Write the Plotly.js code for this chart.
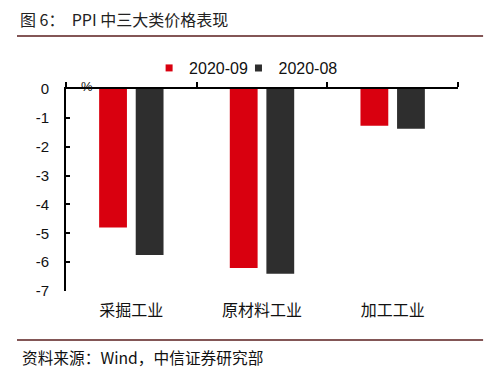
<!DOCTYPE html>
<html>
<head>
<meta charset="utf-8">
<script src="https://cdn.plot.ly/plotly-3.0.1.min.js"></script>
<style>html,body{margin:0;padding:0;background:#fff;}#chart{width:500px;height:380px;}</style>
</head>
<body>
<div id="chart"></div>
<script>
var categories = ["采掘工业", "原材料工业", "加工工业"];
var seriesNames = ["2020-09", "2020-08"];
var seriesColors = ["#D9000F", "#2E2E2E"];
var sep2020 = [-4.8, -6.2, -1.27];
var aug2020 = [-5.75, -6.4, -1.38];
var yTicks = [0, -1, -2, -3, -4, -5, -6, -7];

var FONT = "Liberation Sans, Arial, Noto Sans CJK SC, sans-serif";
var CJK = "Noto Sans CJK SC, Liberation Sans, sans-serif";

var data = [
  {type: "bar", name: seriesNames[0], x: categories, y: sep2020, marker: {color: seriesColors[0]}, xaxis: "x", yaxis: "y", showlegend: false},
  {type: "bar", name: seriesNames[1], x: categories, y: aug2020, marker: {color: seriesColors[1]}, xaxis: "x", yaxis: "y", showlegend: false},
  {type: "scatter", mode: "markers", name: seriesNames[0], x: [categories[0]], y: [null], marker: {symbol: "square", size: 7, color: seriesColors[0]}, xaxis: "x", yaxis: "y", legend: "legend"},
  {type: "scatter", mode: "markers", name: seriesNames[1], x: [categories[0]], y: [null], marker: {symbol: "square", size: 7, color: seriesColors[1]}, xaxis: "x", yaxis: "y", legend: "legend2"},
  {type: "scatter", mode: "markers", x: categories, y: [null, null, null], xaxis: "x2", yaxis: "y", showlegend: false, hoverinfo: "skip"}
];

var legendStyle = {font: {family: FONT, size: 16, color: "#111"}, itemwidth: 30, bgcolor: "rgba(0,0,0,0)",
  orientation: "h", xanchor: "left", yref: "container", y: 0.821, yanchor: "middle"};

var layout = {
  width: 500, height: 380,
  margin: {l: 66, r: 42, t: 89, b: 20},
  paper_bgcolor: "#fff", plot_bgcolor: "#fff",
  font: {family: FONT, size: 15, color: "#111"},
  barmode: "group", bargap: 0.44, bargroupgap: 0.24,
  showlegend: true,
  legend: Object.assign({x: 0.212}, legendStyle),
  legend2: Object.assign({x: 0.44}, legendStyle),
  title: {text: "图 6：  PPI 中三大类价格表现", x: 0.04, xref: "container", xanchor: "left",
    y: 0.947, yref: "container", yanchor: "middle", font: {family: CJK, size: 16, color: "#222"}},
  xaxis: {type: "category", categoryarray: categories, range: [-0.5, 2.5], side: "bottom", showline: false, ticks: "",
    showgrid: false, zeroline: false, ticklabelstandoff: 8, tickfont: {family: CJK, size: 16, color: "#111"}},
  xaxis2: {type: "category", categoryarray: categories, range: [-0.5, 2.5], overlaying: "x", side: "top", anchor: "y", showline: true,
    linecolor: "#000", linewidth: 2, ticks: "outside", ticklen: 5, tickwidth: 2, tickcolor: "#000",
    tickson: "boundaries", showticklabels: false, showgrid: false, zeroline: false},
  yaxis: {domain: [0.2546, 1], range: [-7, 0], tickvals: yTicks, ticktext: yTicks.map(String), showline: true, linecolor: "#000", linewidth: 2,
    ticks: "inside", ticklen: 4, tickwidth: 2, tickcolor: "#000", showgrid: false, zeroline: false,
    ticklabelstandoff: 12, tickfont: {family: FONT, size: 15, color: "#111"}},
  shapes: [
    {type: "line", layer: "above", xref: "x domain", yref: "y domain", x0: -0.125, x1: 1.064, y0: 1.262, y1: 1.262, line: {color: "#5A1E1E", width: 1.5}},
    {type: "line", layer: "above", xref: "x domain", yref: "y domain", x0: -0.125, x1: 1.064, y0: -0.243, y1: -0.243, line: {color: "#5A1E1E", width: 1.5}}
  ],
  annotations: [
    {text: "%", xref: "x domain", yref: "y domain", x: 0.054, y: 1.012, showarrow: false, xanchor: "center", yanchor: "middle",
      font: {family: FONT, size: 13, color: "#111"}},
    {text: "资料来源：Wind，中信证券研究部", xref: "x domain", yref: "y domain", x: -0.117, y: -0.33, showarrow: false,
      xanchor: "left", yanchor: "middle", font: {family: CJK, size: 15.7, color: "#111"}}
  ]
};

Plotly.newPlot("chart", data, layout, {displayModeBar: false, staticPlot: true});
</script>
</body>
</html>
